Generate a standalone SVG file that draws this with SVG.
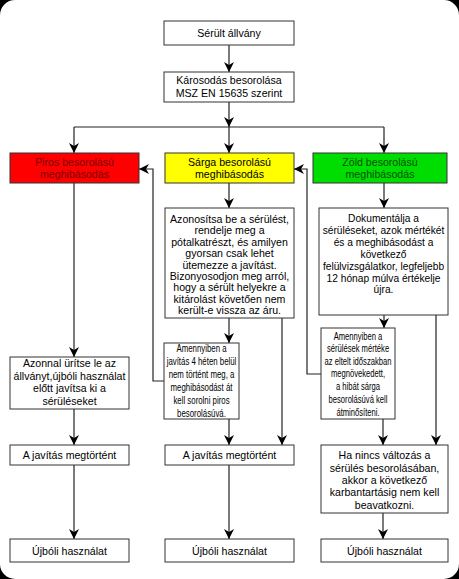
<svg xmlns="http://www.w3.org/2000/svg" width="459" height="579" viewBox="0 0 459 579">
<defs>
<marker id="ah" viewBox="0 0 10 10" refX="10" refY="5" markerWidth="10" markerHeight="10" markerUnits="userSpaceOnUse" orient="auto">
<path d="M0,0 L10,5 L0,10 L3,5 z" fill="#000"/>
</marker>
<style>
.b{fill:#fff;stroke:#333;stroke-width:1}
.t{font-family:"Liberation Sans",Arial,sans-serif;font-size:10.6px;fill:#000;text-anchor:middle}
.c{fill:none;stroke:#222;stroke-width:1.2}
.a{marker-end:url(#ah)}
</style>
</defs>
<rect x="0" y="0" width="459" height="579" fill="#000"/>
<rect x="0" y="0" width="459" height="579" rx="15" ry="15" fill="#fff"/>

<g id="connectors">
<path class="c a" d="M229,45 V72"/>
<path class="c a" d="M229,102 V127"/>
<path class="c" d="M74,127 H384"/>
<path class="c a" d="M74,127 V153"/>
<path class="c a" d="M229,127 V153"/>
<path class="c a" d="M384,127 V153"/>
<path class="c a" d="M74,183 V357"/>
<path class="c a" d="M74,409 V445"/>
<path class="c a" d="M74,465 V539"/>
<path class="c a" d="M229,183 V208"/>
<path class="c a" d="M229,318 V343"/>
<path class="c a" d="M229,419 V445"/>
<path class="c a" d="M229,465 V539"/>
<path class="c a" d="M282,318 V445"/>
<path class="c a" d="M164,381 H153 V169 H139"/>
<path class="c a" d="M384,183 V208"/>
<path class="c a" d="M384,315 V328"/>
<path class="c a" d="M383,419 V445"/>
<path class="c a" d="M383,513 V539"/>
<path class="c a" d="M436,315 V445"/>
<path class="c a" d="M321,374 H307 V169 H294"/>
</g>

<g id="n1"><rect class="b" x="164" y="21" width="130" height="24"/>
<text class="t" x="229" y="37">Sérült állvány</text></g>

<g id="n2"><rect class="b" x="164" y="72" width="130" height="30"/>
<text class="t" x="229" y="84">Károsodás besorolása</text>
<text class="t" x="229" y="97">MSZ EN 15635 szerint</text></g>

<g id="red"><rect x="10" y="153" width="129" height="30" fill="#ff0000" stroke="#333"/>
<text class="t" x="74.5" y="166" style="fill:#7a0000">Piros besorolású</text>
<text class="t" x="74.5" y="178" style="fill:#7a0000">meghibásodás</text></g>

<g id="yellow"><rect x="165" y="153" width="129" height="30" fill="#ffff00" stroke="#333"/>
<text class="t" x="229.5" y="166">Sárga besorolású</text>
<text class="t" x="229.5" y="178">meghibásodás</text></g>

<g id="green"><rect x="313" y="153" width="134" height="30" fill="#00dd00" stroke="#333"/>
<text class="t" x="380" y="166" style="fill:#005000">Zöld besorolású</text>
<text class="t" x="380" y="178" style="fill:#005000">meghibásodás</text></g>

<g id="azonnal"><rect class="b" x="10" y="357" width="119" height="52"/>
<text class="t" x="69.5" y="367">Azonnal ürítse le az</text>
<text class="t" x="69.5" y="380">állványt,újbóli használat</text>
<text class="t" x="69.5" y="392">előtt javítsa ki a</text>
<text class="t" x="69.5" y="405">sérüléseket</text></g>

<g id="jav1"><rect class="b" x="10" y="445" width="119" height="20"/>
<text class="t" x="69.5" y="459">A javítás megtörtént</text></g>

<g id="ujb1"><rect class="b" x="10" y="539" width="119" height="23"/>
<text class="t" x="69.5" y="555">Újbóli használat</text></g>

<g id="azonositsa"><rect class="b" x="165" y="208" width="129" height="110"/>
<text class="t" x="229.5" y="223">Azonosítsa be a sérülést,</text>
<text class="t" x="229.5" y="234.4">rendelje meg a</text>
<text class="t" x="229.5" y="245.8">pótalkatrészt, és amilyen</text>
<text class="t" x="229.5" y="257.2">gyorsan csak lehet</text>
<text class="t" x="229.5" y="268.6">ütemezze a javítást.</text>
<text class="t" x="229.5" y="280">Bizonyosodjon meg arról,</text>
<text class="t" x="229.5" y="291.4">hogy a sérült helyekre a</text>
<text class="t" x="229.5" y="302.8">kitárolást követően nem</text>
<text class="t" x="229.5" y="314.2">került-e vissza az áru.</text></g>

<g id="amenny1"><rect class="b" x="164" y="343" width="75" height="76"/>
<g transform="translate(201.5,0) scale(0.74,1)">
<text class="t" x="0" y="352">Amennyiben a</text>
<text class="t" x="0" y="365.5">javítás 4 héten belül</text>
<text class="t" x="0" y="378.5">nem történt meg, a</text>
<text class="t" x="0" y="391.5">meghibásodást át</text>
<text class="t" x="0" y="404.5">kell sorolni piros</text>
<text class="t" x="0" y="417">besorolásúvá.</text>
</g></g>

<g id="jav2"><rect class="b" x="165" y="445" width="129" height="20"/>
<text class="t" x="229.5" y="459">A javítás megtörtént</text></g>

<g id="ujb2"><rect class="b" x="165" y="539" width="129" height="23"/>
<text class="t" x="229.5" y="555">Újbóli használat</text></g>

<g id="dokumentalja"><rect class="b" x="319" y="208" width="129" height="107"/>
<text class="t" x="383.5" y="222" style="font-size:10.2px">Dokumentálja a</text>
<text class="t" x="383.5" y="234" style="font-size:10.2px">sérüléseket, azok mértékét</text>
<text class="t" x="383.5" y="246" style="font-size:10.2px">és a meghibásodást a</text>
<text class="t" x="383.5" y="258" style="font-size:10.2px">következő</text>
<text class="t" x="383.5" y="270" style="font-size:10.2px">felülvizsgálatkor, legfeljebb</text>
<text class="t" x="383.5" y="281.5" style="font-size:10.2px">12 hónap múlva értékelje</text>
<text class="t" x="383.5" y="293" style="font-size:10.2px">újra.</text></g>

<g id="amenny2"><rect class="b" x="321" y="328" width="74" height="91"/>
<g transform="translate(358,0) scale(0.72,1)">
<text class="t" x="0" y="340">Amennyiben a</text>
<text class="t" x="0" y="352.5">sérülések mértéke</text>
<text class="t" x="0" y="365">az eltelt időszakban</text>
<text class="t" x="0" y="377.5">megnövekedett,</text>
<text class="t" x="0" y="390">a hibát sárga</text>
<text class="t" x="0" y="403">besorolásúvá kell</text>
<text class="t" x="0" y="416">átminősíteni.</text>
</g></g>

<g id="hanincs"><rect class="b" x="321" y="445" width="127" height="68"/>
<text class="t" x="384.5" y="459">Ha nincs változás a</text>
<text class="t" x="384.5" y="471.5">sérülés besorolásában,</text>
<text class="t" x="384.5" y="483.5">akkor a következő</text>
<text class="t" x="384.5" y="496">karbantartásig nem kell</text>
<text class="t" x="384.5" y="508.5">beavatkozni.</text></g>

<g id="ujb3"><rect class="b" x="321" y="539" width="127" height="23"/>
<text class="t" x="384.5" y="555">Újbóli használat</text></g>
</svg>
